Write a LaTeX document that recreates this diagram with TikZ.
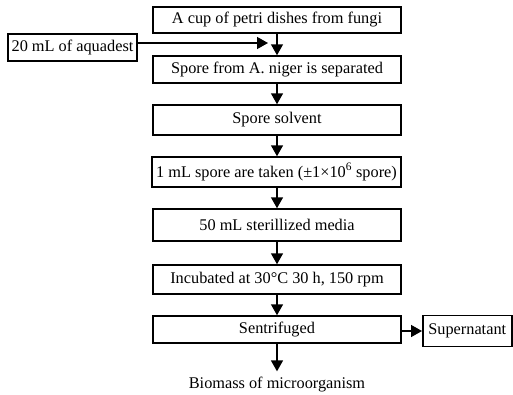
\documentclass[tikz,border=0pt]{standalone}
\usepackage{fontspec}
\setmainfont{Liberation Serif}
\usetikzlibrary{arrows.meta}
\begin{document}
\begin{tikzpicture}[x=1pt,y=-1pt,
  every node/.style={font=\fontsize{16.3}{19}\selectfont},
  box/.style={draw,line width=1.5pt,inner sep=0pt,minimum width=248pt},
  arr/.style={line width=1.5pt,-{Triangle[width=12pt,length=11pt]}}]
\useasboundingbox (0,0) rectangle (513,394);
\node[box,minimum height=26pt] (b1) at (277,20) {A cup of petri dishes from fungi};
\node[box,minimum height=27pt] (b2) at (277,69.5) {Spore from A. niger is separated};
\node[box,minimum height=30pt] (b3) at (277,120) {Spore solvent};
\node[box,minimum height=30pt,minimum width=249pt] (b4) at (276.5,172) {1 mL spore are taken (±1×10\textsuperscript{6} spore)};
\node[box,minimum height=32pt] (b5) at (277,225) {50 mL sterillized media};
\node[box,minimum height=29pt] (b6) at (277,279.5) {Incubated at 30°C 30 h, 150 rpm};
\node[box,minimum height=27pt] (b7) at (277,329.5) {Sentrifuged};
\node[box,minimum height=27pt,minimum width=129pt] (aq) at (72.5,47.5) {20 mL of aquadest};
\node[box,minimum height=31pt,minimum width=89pt] (sup) at (467.25,331) {Supernatant};
\node[anchor=base,inner sep=5pt] (bio) at (277,388) {Biomass of microorganism};
\coordinate (aqin) at (268,43);
\draw[arr] (b1) -- (b2);
\draw[arr] (aq.east |- aqin) -- (aqin);
\draw[arr] (b2) -- (b3);
\draw[arr] (b3) -- (b4.north -| b3);
\draw[arr] (b4.south -| b3) -- (b5);
\draw[arr] (b5) -- (b6);
\draw[arr] (b6) -- (b7);
\draw[arr] (b7.east |- sup.west) -- (sup.west);
\draw[arr] (b7) -- (bio);
\end{tikzpicture}
\end{document}
